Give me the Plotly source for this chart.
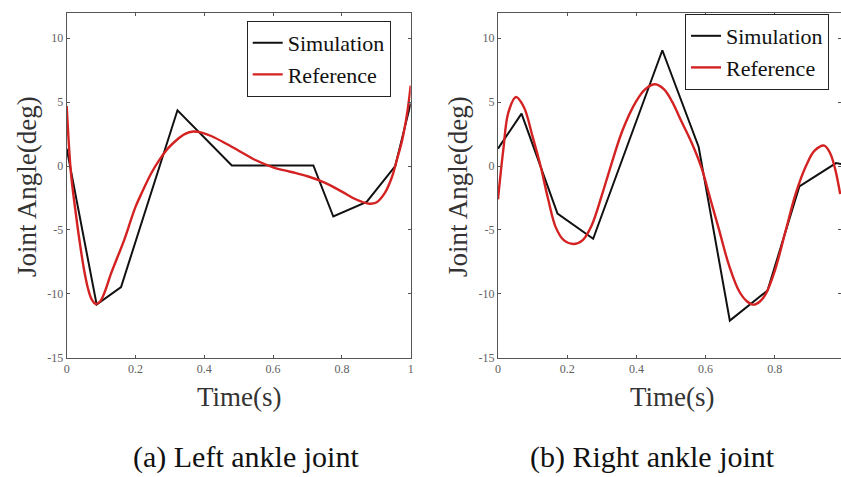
import plotly.graph_objects as go

# ---- data ----
left_sim_t = [0, 0.087, 0.158, 0.322, 0.48, 0.717, 0.775, 0.872, 0.955, 1.0]
left_sim_y = [1.36, -10.84, -9.47, 4.36, 0.05, 0.05, -3.95, -2.8, 0.0, 4.9]

left_ref_t = [0, 0.0125, 0.025, 0.037, 0.051, 0.062, 0.073, 0.085, 0.097, 0.11, 0.129, 0.148,
              0.167, 0.2, 0.22, 0.245, 0.27, 0.295, 0.318, 0.343, 0.368, 0.395, 0.42, 0.46,
              0.5, 0.55, 0.6, 0.65, 0.7, 0.75, 0.8, 0.84, 0.88, 0.9, 0.925, 0.945,
              0.96, 0.975, 0.99, 1.0]
left_ref_y = [4.7, -0.6, -3.4, -5.8, -8.2, -9.6, -10.45, -10.8, -10.6, -9.9, -8.4, -7.1,
              -5.8, -3.2, -2.0, -0.6, 0.5, 1.4, 2.0, 2.5, 2.7, 2.6, 2.35, 1.8,
              1.2, 0.45, -0.1, -0.45, -0.8, -1.3, -2.0, -2.6, -2.95, -2.85, -2.1, -0.9,
              0.5, 2.0, 4.2, 6.3]

right_sim_t = [0, 0.068, 0.172, 0.275, 0.475, 0.58, 0.67, 0.779, 0.871, 0.977, 0.995]
right_sim_y = [1.36, 4.1, -3.73, -5.69, 9.06, 1.49, -12.1, -9.74, -1.59, 0.23, 0.15]

right_ref_t = [0, 0.015, 0.03, 0.052, 0.075, 0.1, 0.123, 0.145, 0.167, 0.19, 0.22,
               0.245, 0.27, 0.3, 0.326, 0.36, 0.398, 0.425, 0.454, 0.48, 0.504, 0.53,
               0.56, 0.589, 0.614, 0.639, 0.668, 0.697, 0.72, 0.739, 0.757, 0.774, 0.8,
               0.832, 0.86, 0.89, 0.915, 0.943, 0.96, 0.975, 0.989]
right_ref_y = [-2.6, 1.2, 4.2, 5.4, 4.6, 2.3, 0.0, -2.6, -4.8, -5.8, -6.1,
               -5.8, -4.7, -2.3, 0.0, 2.8, 5.0, 6.0, 6.4, 6.0, 5.0, 3.5,
               1.8, -0.2, -2.6, -5.0, -7.8, -9.8, -10.6, -10.85, -10.6, -10.0, -8.2,
               -5.0, -2.2, 0.0, 1.2, 1.6, 1.0, -0.3, -2.2]

x_tickvals = [0, 0.2, 0.4, 0.6, 0.8, 1]
x_ticktext = ["0", "0.2", "0.4", "0.6", "0.8", "1"]
y_tickvals = [-15, -10, -5, 0, 5, 10]
y_ticktext = ["-15", "-10", "-5", "0", "5", "10"]

series_names = ["Simulation", "Reference"]
captions = ["(a) Left ankle joint", "(b) Right ankle joint"]
x_title = "Time(s)"
y_title = "Joint Angle(deg)"

W, H = 841, 477
BLACK = "#111111"
RED = "#d42222"
SERIF = "Liberation Serif"
SMOOTH = 1.0

fig = go.Figure()

fig.add_trace(go.Scatter(x=left_sim_t, y=left_sim_y, mode="lines", name=series_names[0],
                         line=dict(color=BLACK, width=2), xaxis="x", yaxis="y", legend="legend"))
fig.add_trace(go.Scatter(x=left_ref_t, y=left_ref_y, mode="lines", name=series_names[1],
                         line=dict(color=RED, width=2.4, shape="spline", smoothing=SMOOTH,
                                   simplify=False),
                         xaxis="x", yaxis="y", legend="legend"))
fig.add_trace(go.Scatter(x=right_sim_t, y=right_sim_y, mode="lines", name=series_names[0],
                         line=dict(color=BLACK, width=2), xaxis="x2", yaxis="y2", legend="legend2"))
fig.add_trace(go.Scatter(x=right_ref_t, y=right_ref_y, mode="lines", name=series_names[1],
                         line=dict(color=RED, width=2.4, shape="spline", smoothing=SMOOTH,
                                   simplify=False),
                         xaxis="x2", yaxis="y2", legend="legend2"))

def px_x(p):
    return p / W

def px_y(p):
    return 1 - p / H

axis_common = dict(showline=True, mirror="ticks", linecolor="#555555", linewidth=1,
                   ticks="inside", ticklen=3, tickcolor="#555555", showgrid=False,
                   zeroline=False, automargin=False,
                   tickfont=dict(family=SERIF, size=12, color="#606060"))

ydom = [px_y(357.7), px_y(12.7)]

legend_common = dict(xanchor="left", yanchor="top", bordercolor="#222222", borderwidth=1,
                     bgcolor="white", font=dict(family=SERIF, size=22, color="#111111"),
                     itemwidth=30, tracegroupgap=0)

fig.update_layout(
    width=W, height=H,
    margin=dict(l=0, r=0, t=0, b=0),
    paper_bgcolor="white", plot_bgcolor="white",
    showlegend=True,
    xaxis=dict(domain=[px_x(66.7), px_x(410.7)], range=[0, 1], anchor="y",
               tickvals=x_tickvals, ticktext=x_ticktext, **axis_common),
    yaxis=dict(domain=ydom, range=[-15, 12], anchor="x",
               tickvals=y_tickvals, ticktext=y_ticktext, **axis_common),
    xaxis2=dict(domain=[px_x(498), 1.0], range=[0, (841 - 498) / 346.0], anchor="y2",
                tickvals=x_tickvals, ticktext=x_ticktext, **axis_common),
    yaxis2=dict(domain=ydom, range=[-15, 12], anchor="x2",
                tickvals=y_tickvals, ticktext=y_ticktext, **axis_common),
    legend=dict(x=px_x(246.7), y=px_y(21), **legend_common),
    legend2=dict(x=px_x(685), y=px_y(14), **legend_common),
)

annots = [
    dict(text=x_title, x=px_x(239), y=px_y(397)),
    dict(text=x_title, x=px_x(672), y=px_y(397)),
    dict(text=y_title, x=px_x(27), y=px_y(187), textangle=-90),
    dict(text=y_title, x=px_x(458), y=px_y(187), textangle=-90),
]
for a in annots:
    fig.add_annotation(xref="paper", yref="paper", xanchor="center", yanchor="middle",
                       showarrow=False, font=dict(family=SERIF, size=27, color="#333333"), **a)

fig.add_annotation(text=captions[0], xref="paper", yref="paper", x=px_x(246), y=px_y(457),
                   xanchor="center", yanchor="middle", showarrow=False,
                   font=dict(family=SERIF, size=30, color="#111111"))
fig.add_annotation(text=captions[1], xref="paper", yref="paper", x=px_x(652), y=px_y(457),
                   xanchor="center", yanchor="middle", showarrow=False,
                   font=dict(family=SERIF, size=30, color="#111111"))

fig.write_html("out.html")
